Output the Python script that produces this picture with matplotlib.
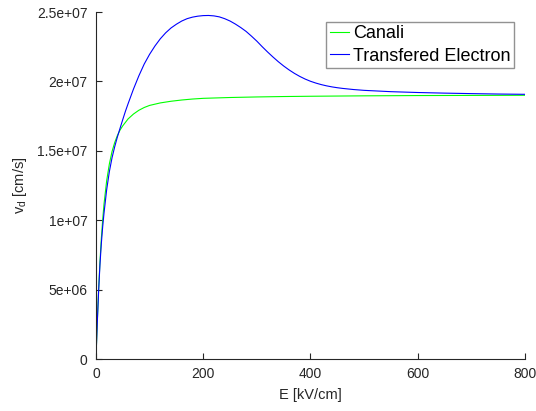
import matplotlib
matplotlib.use("Agg")
import matplotlib.pyplot as plt
from matplotlib.ticker import FixedLocator, FixedFormatter

plt.rcParams['font.family'] = ['Liberation Sans', 'DejaVu Sans']

# Electric field [kV/cm] and drift velocity [1e7 cm/s]
e_canali = [0, 2.5, 5, 7.5, 10, 12.5, 15, 20, 25, 30, 35, 40, 45, 50, 60, 70, 80,
            90, 100, 120, 140, 160, 180, 200, 250, 300, 350, 400, 500, 600, 700, 800]
v_canali = [0, 0.267, 0.50, 0.70, 0.865, 1.0, 1.115, 1.285, 1.405, 1.495, 1.56,
            1.61, 1.65, 1.68, 1.73, 1.765, 1.792, 1.812, 1.827, 1.845, 1.857,
            1.866, 1.873, 1.878, 1.884, 1.888, 1.891, 1.893, 1.896, 1.898, 1.899, 1.90]

e_te = [0, 2.5, 5, 7.5, 10, 12.5, 15, 20, 25, 30, 35, 40, 45, 50, 55, 60, 70, 80,
        90, 100, 110, 120, 130, 140, 150, 160, 170, 180, 190, 200, 210, 220, 230,
        240, 250, 260, 270, 280, 290, 300, 310, 320, 330, 340, 350, 360, 370, 380,
        390, 400, 410, 420, 430, 440, 450, 460, 480, 500, 550, 600, 650, 700, 750, 800]
v_te = [0, 0.26, 0.49, 0.68, 0.83, 0.95, 1.05, 1.22, 1.35, 1.45, 1.53, 1.60,
        1.663, 1.725, 1.785, 1.84, 1.945, 2.04, 2.125, 2.195, 2.255, 2.307, 2.35,
        2.385, 2.412, 2.435, 2.452, 2.463, 2.47, 2.474, 2.475, 2.472, 2.465,
        2.452, 2.435, 2.413, 2.388, 2.36, 2.326, 2.29, 2.25, 2.212, 2.176, 2.142,
        2.111, 2.083, 2.058, 2.036, 2.017, 2.001, 1.988, 1.977, 1.968, 1.9605,
        1.9545, 1.9495, 1.9415, 1.9355, 1.926, 1.92, 1.9155, 1.912, 1.909, 1.907]

scale = 1e7
labels = ["Canali", "Transfered Electron"]
x_ticks = [0, 200, 400, 600, 800]
y_ticks = [0, 5e6, 1e7, 1.5e7, 2e7, 2.5e7]
y_tick_labels = ["0", "5e+06", "1e+07", "1.5e+07", "2e+07", "2.5e+07"]

axis_color = "#262626"

fig = plt.figure(figsize=(5.36, 4.11), dpi=100)
ax = fig.add_axes([0.179, 0.1265, 0.8005, 0.8443])

ax.plot(e_canali, [v * scale for v in v_canali], color=(0, 1, 0), lw=0.8, label=labels[0])
ax.plot(e_te, [v * scale for v in v_te], color=(0, 0, 1), lw=0.8, label=labels[1])

ax.set_xlim(0, 800)
ax.set_ylim(0, 2.5e7)
ax.xaxis.set_major_locator(FixedLocator(x_ticks))
ax.yaxis.set_major_locator(FixedLocator(y_ticks))
ax.yaxis.set_major_formatter(FixedFormatter(y_tick_labels))

for side in ("top", "right"):
    ax.spines[side].set_visible(False)
for side in ("left", "bottom"):
    ax.spines[side].set_color(axis_color)
    ax.spines[side].set_linewidth(0.8)

ax.tick_params(direction="in", length=4, width=0.8, color=axis_color,
               labelcolor=axis_color, labelsize=10, pad=6)

ax.set_xlabel("E [kV/cm]", fontsize=10.5, color=axis_color, labelpad=5)
ax.set_ylabel(r"$\mathregular{v_d}$ [cm/s]", fontsize=10.5, color=axis_color, labelpad=6)

leg = ax.legend(loc="upper right", bbox_to_anchor=(0.975, 0.972), borderaxespad=0,
                fontsize=13, frameon=True, fancybox=False, handlelength=1.05,
                handletextpad=0.25, labelspacing=0.3, borderpad=0.2)
leg.get_frame().set_edgecolor("#777777")
leg.get_frame().set_linewidth(1.0)

fig.savefig("out.png", dpi=100)
